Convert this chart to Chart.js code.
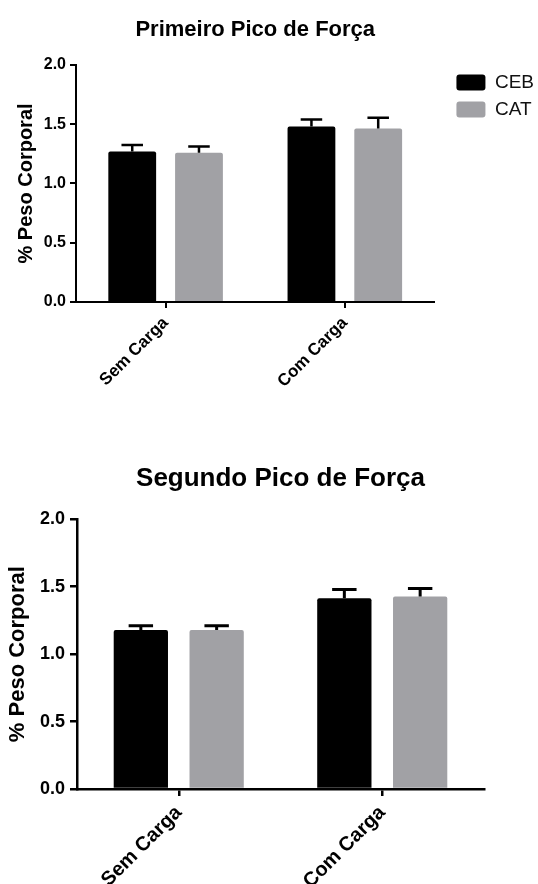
<!DOCTYPE html>
<html><head><meta charset="utf-8">
<script src="https://cdn.jsdelivr.net/npm/chart.js@4"></script>
<style>
html,body{margin:0;padding:0;background:#fff;width:538px;height:884px;overflow:hidden}
canvas{position:absolute;left:0;display:block}
#c1{top:0}
#c2{top:440px}
</style></head><body>
<canvas id="c1" width="538" height="440"></canvas>
<canvas id="c2" width="538" height="444"></canvas>
<script>
// ---- data ----
const categories = ['Sem Carga', 'Com Carga'];
const seriesNames = ['CEB', 'CAT'];
const yTickValues = [0, 0.5, 1.0, 1.5, 2.0];
const chartTitles = ['Primeiro Pico de Força', 'Segundo Pico de Força'];
const yAxisTitle = '% Peso Corporal';
// Primeiro Pico de Força (mean, SEM)
const pico1CEB = [1.27, 1.48];
const pico1CEBerr = [0.054, 0.059];
const pico1CAT = [1.26, 1.463];
const pico1CATerr = [0.051, 0.091];
// Segundo Pico de Força (mean, SEM)
const pico2CEB = [1.18, 1.415];
const pico2CEBerr = [0.03, 0.064];
const pico2CAT = [1.18, 1.427];
const pico2CATerr = [0.03, 0.06];

const FONT = '"Liberation Sans", Arial, Helvetica, sans-serif';
const seriesColors = ['#000000', '#a1a1a5'];

const errorBars = {
  id: 'errorBars',
  afterDatasetsDraw(chart, args, opts) {
    const ctx = chart.ctx, y = chart.scales.y;
    chart.data.datasets.forEach((ds, i) => {
      const meta = chart.getDatasetMeta(i);
      if (meta.hidden) return;
      meta.data.forEach((bar, j) => {
        const top = y.getPixelForValue(ds.data[j] + ds.errors[j]);
        const half = bar.width * opts.capRatio / 2;
        ctx.save();
        ctx.strokeStyle = opts.color;
        ctx.lineWidth = opts.lineWidth;
        ctx.beginPath();
        ctx.moveTo(bar.x, bar.y);
        ctx.lineTo(bar.x, top);
        ctx.moveTo(bar.x - half, top);
        ctx.lineTo(bar.x + half, top);
        ctx.stroke();
        ctx.restore();
      });
    });
  }
};

const legendShift = {
  id: 'legendShift',
  afterLayout(chart, args, opts) {
    if (chart.legend && opts.dx) {
      chart.legend.left += opts.dx;
      chart.legend.right += opts.dx;
    }
  }
};

function makeDatasets(ceb, cebErr, cat, catErr) {
  return [
    {label: seriesNames[0], data: ceb, errors: cebErr, backgroundColor: seriesColors[0]},
    {label: seriesNames[1], data: cat, errors: catErr, backgroundColor: seriesColors[1]}
  ].map(d => Object.assign(d, {
    borderWidth: 0, borderRadius: 2,
    categoryPercentage: 0.745, barPercentage: 0.716
  }));
}

function makeChart(el, s) {
  return new Chart(document.getElementById(el), {
    type: 'bar',
    data: {labels: categories, datasets: makeDatasets(...s.data)},
    plugins: [errorBars, legendShift],
    options: {
      responsive: false,
      animation: false,
      devicePixelRatio: 1,
      layout: {padding: {left: 0, right: s.padRight, top: 0, bottom: 0}},
      plugins: {
        tooltip: {enabled: false},
        title: {
          display: true, text: s.title, color: '#000', fullSize: false,
          font: {family: FONT, size: s.titleSize, weight: 'bold'},
          padding: {top: s.titleTop, bottom: s.titleBottom}
        },
        legend: {
          display: s.legend, position: 'right', align: 'start', fullSize: false, maxWidth: 104,
          labels: {
            boxWidth: 29, boxHeight: 16, padding: 8, color: '#111',
            useBorderRadius: true, borderRadius: 3,
            font: {family: FONT, size: 19}
          }
        },
        legendShift: {dx: s.legendDx || 0},
        errorBars: {capRatio: 0.45, lineWidth: s.lw + 0.5, color: '#000'}
      },
      scales: {
        x: {
          offset: true,
          grid: {display: true, drawOnChartArea: false, drawTicks: true, tickLength: s.tick, offset: false, color: '#000', lineWidth: s.lw},
          border: {display: true, color: '#000', width: s.lw},
          ticks: {minRotation: 45, maxRotation: 45, color: '#000', padding: s.xPad,
                  font: {family: FONT, size: s.xFont, weight: 'bold'}},
          afterFit: sc => { sc.height = s.xHeight; }
        },
        y: {
          min: 0, max: 2,
          afterBuildTicks: sc => { sc.ticks = yTickValues.map(v => ({value: v})); },
          grid: {display: true, drawOnChartArea: false, drawTicks: true, tickLength: s.tick, color: '#000', lineWidth: s.lw},
          border: {display: true, color: '#000', width: s.lw},
          ticks: {color: '#000', padding: s.yPad, callback: v => Number(v).toFixed(1),
                  font: {family: FONT, size: s.yFont, weight: 'bold'}},
          title: {display: true, text: yAxisTitle, color: '#000',
                  font: {family: FONT, size: s.yTitleSize, weight: 'bold'},
                  padding: {top: s.yTitlePad, bottom: 0}},
          afterFit: sc => { sc.width = s.yWidth; }
        }
      }
    }
  });
}

makeChart('c1', {
  data: [pico1CEB, pico1CEBerr, pico1CAT, pico1CATerr],
  title: chartTitles[0], titleSize: 22, titleTop: 17, titleBottom: 21.5,
  legend: true, legendDx: 14, padRight: 8,
  lw: 2, tick: 6, xFont: 17, xPad: 5, xHeight: 138,
  yFont: 16, yPad: 4, yTitleSize: 20, yTitlePad: 14, yWidth: 76
});

makeChart('c2', {
  data: [pico2CEB, pico2CEBerr, pico2CAT, pico2CATerr],
  title: chartTitles[1], titleSize: 26, titleTop: 23.4, titleBottom: 24.7,
  legend: false, padRight: 54,
  lw: 2.5, tick: 7, xFont: 20, xPad: 5, xHeight: 95,
  yFont: 18, yPad: 5, yTitleSize: 22, yTitlePad: 5, yWidth: 77
});
</script>
</body></html>
